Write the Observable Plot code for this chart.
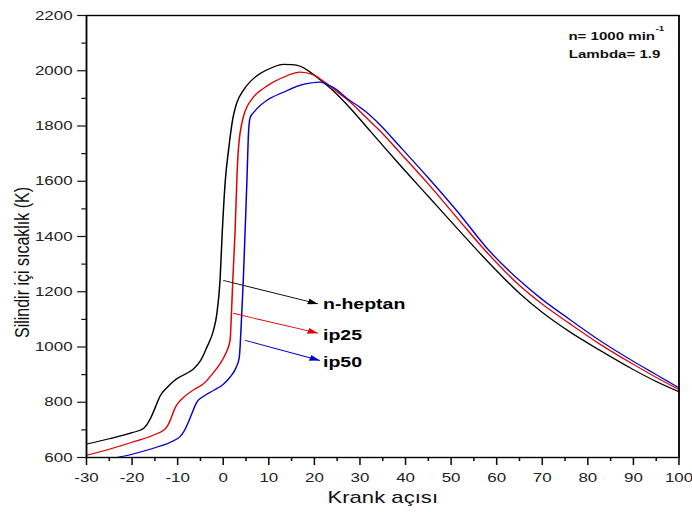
<!DOCTYPE html>
<html>
<head>
<meta charset="utf-8">
<script src="https://cdn.jsdelivr.net/npm/d3@7"></script>
<script src="https://cdn.jsdelivr.net/npm/@observablehq/plot@0.6"></script>
<style>
  html, body { margin: 0; padding: 0; background: #fff; }
  #chart svg { display: block; }
</style>
</head>
<body>
<div id="chart"></div>
<script>
// ---- data ----
const seriesNames = ["n-heptan", "ip25", "ip50"];
const seriesColors = ["#000000", "#e00000", "#0000d0"];

const xHeptan = [-30,-25,-20,-17.5,-16,-14.9,-13.8,-12.3,-10.2,-8,-6.5,-5,-3.6,-2.2,-1.4,-0.7,-0.2,0.45,1.15,2.15,3,4.35,6,8.1,10.5,13.15,15,16.9,18.5,20.5,24.1,28,31.45,34.4,38.7,45,51.85,58,64.9,70,76,82.45,90,95,100];
const yHeptan = [649,668,690,705,740,782,824,854,885,905,921,950,999,1057,1120,1241,1420,1602,1711,1831,1885,1928,1962,1990,2010,2023,2022,2016,2002,1977,1928,1862,1797,1741,1660,1545,1420,1310,1196,1125,1055,990,918,875,838];

const xIp25 = [-30,-25,-20,-15,-13,-12.3,-11.5,-10.5,-9.5,-8.7,-6.5,-4.3,-2.5,-0.7,0.5,1.5,1.8,2.1,2.6,2.98,3.3,4.4,6.6,9,11,14,16.8,19.7,22,24.1,28,31.4,34.3,38.7,45,51.8,58,65,70,76,82.5,90,95,100];
const yIp25 = [608,630,655,683,700,712,740,782,805,818,845,867,900,939,975,1024,1120,1241,1420,1602,1711,1832,1904,1938,1959,1982,1995,1986,1962,1935,1885,1830,1784,1705,1590,1458,1340,1223,1155,1085,1012,937,890,846];

const xIp50 = [-23.3,-20,-15,-11,-9.5,-8.7,-7.9,-7.2,-5.8,-4,-2.1,0,1.5,2.8,3.5,3.7,4.0,4.4,4.8,5.2,5.5,5.9,7,9.5,13.2,16.8,19,21.2,24.1,27.8,30,31.4,34.3,38.7,45,51.8,58,65,70,76,82.5,90,95,100];
const yIp50 = [600,612,635,660,675,692,718,746,800,825,843,865,891,925,960,1000,1100,1241,1420,1603,1760,1830,1855,1892,1922,1947,1955,1959,1940,1892,1868,1850,1806,1727,1612,1482,1355,1241,1172,1100,1025,948,900,852];

// arrows pointing from the curves to the labels
const arrowX1 = [0.0, 2.2, 4.8];
const arrowY1 = [1241, 1122, 1024];
const arrowX2 = [20.8, 20.8, 21.2];
const arrowY2 = [1156, 1050, 951];
const labelX = [21.9, 21.9, 21.9];
const labelY = [1156, 1042, 945];

const xMajorTicks = d3.range(-30, 101, 10);
const xMinorTicks = d3.range(-25, 100, 10);
const yMajorTicks = d3.range(600, 2201, 200);
const yMinorTicks = d3.range(700, 2200, 200);

const xTitle = ["Krank açısı"];
const yTitle = ["Silindir içi sıcaklık (K)"];
const noteLine1 = ["n= 1000 min"];
const noteSup = ["-1"];
const noteLine2 = ["Lambda= 1.9"];

// ---- chart ----
const W = 532, H = 512, OUT_W = 692;

function triMarker(color, context) {
  const doc = (context && context.document) || document;
  const m = doc.createElementNS("http://www.w3.org/2000/svg", "marker");
  m.setAttribute("viewBox", "0 -3 8 6");
  m.setAttribute("markerWidth", 8);
  m.setAttribute("markerHeight", 6);
  m.setAttribute("markerUnits", "userSpaceOnUse");
  m.setAttribute("refX", 8);
  m.setAttribute("refY", 0);
  m.setAttribute("orient", "auto");
  const p = doc.createElementNS("http://www.w3.org/2000/svg", "path");
  p.setAttribute("d", "M0,-3L8,0L0,3Z");
  p.setAttribute("fill", color);
  p.setAttribute("stroke", "none");
  m.appendChild(p);
  return m;
}

let arrowMark;
try {
  arrowMark = Plot.link({length: 3}, {
    x1: arrowX1, y1: arrowY1, x2: arrowX2, y2: arrowY2,
    stroke: seriesColors, strokeWidth: 0.9, markerEnd: triMarker
  });
} catch (e) {
  arrowMark = Plot.link({length: 3}, {
    x1: arrowX1, y1: arrowY1, x2: arrowX2, y2: arrowY2,
    stroke: seriesColors, strokeWidth: 0.9, markerEnd: "arrow"
  });
}

const series = [[xHeptan, yHeptan], [xIp25, yIp25], [xIp50, yIp50]];
const plain = (d) => String(d);

const chart = Plot.plot({
  width: W,
  height: H,
  marginLeft: 66,
  marginRight: 10.5,
  marginTop: 15,
  marginBottom: 55,
  style: {fontFamily: "'Liberation Sans', Arial, sans-serif", fontSize: "13px", color: "#222", background: "#fff"},
  x: {domain: [-30, 100], axis: null},
  y: {domain: [600, 2200], axis: null},
  color: {type: "identity"},
  marks: [
    Plot.axisX(xMajorTicks, {anchor: "bottom", tickSize: 8, tickPadding: 7, tickFormat: plain, label: null, fontSize: 13, stroke: "#111", strokeWidth: 1.2}),
    Plot.axisX(xMinorTicks, {anchor: "bottom", tickSize: 4, tickFormat: () => "", label: null, stroke: "#111", strokeWidth: 1.2}),
    Plot.axisY(yMajorTicks, {anchor: "left", tickSize: 6.7, tickPadding: 4, tickFormat: plain, label: null, fontSize: 13, stroke: "#111", strokeWidth: 1.2}),
    Plot.axisY(yMinorTicks, {anchor: "left", tickSize: 3.5, tickFormat: () => "", label: null, stroke: "#111", strokeWidth: 1.2}),
    ...series.map(([xs, ys], i) => Plot.line({length: xs.length}, {
      x: xs, y: ys, stroke: seriesColors[i], strokeWidth: 1.15, curve: "monotone-x"
    })),
    arrowMark,
    Plot.text(seriesNames, {x: labelX, y: labelY, text: seriesNames, textAnchor: "start", lineAnchor: "middle", fontWeight: "bold", fontSize: 15, fill: "#000"}),
    Plot.text(noteLine1, {frameAnchor: "top-right", textAnchor: "end", lineAnchor: "middle", dx: -18.4, dy: 21, fontWeight: "bold", fontSize: 11.6, fill: "#111"}),
    Plot.text(noteSup, {frameAnchor: "top-right", textAnchor: "start", lineAnchor: "middle", dx: -18, dy: 13, fontWeight: "bold", fontSize: 7.5, fill: "#111"}),
    Plot.text(noteLine2, {frameAnchor: "top-right", textAnchor: "end", lineAnchor: "middle", dx: -14.3, dy: 38.5, fontWeight: "bold", fontSize: 11.6, fill: "#111"}),
    Plot.text(xTitle, {frameAnchor: "bottom", textAnchor: "middle", lineAnchor: "middle", dy: 40, fontSize: 17, fill: "#111"}),
    Plot.text(yTitle, {frameAnchor: "left", textAnchor: "middle", lineAnchor: "middle", dx: -49, dy: 26, rotate: -90, fontSize: 16, fill: "#111"}),
    Plot.frame({stroke: "#000", strokeWidth: 1.4})
  ]
});

// The reference image is horizontally stretched; reproduce that by scaling the SVG.
chart.setAttribute("viewBox", `0 0 ${W} ${H}`);
chart.setAttribute("preserveAspectRatio", "none");
chart.setAttribute("width", OUT_W);
chart.setAttribute("height", H);
chart.style.width = OUT_W + "px";
chart.style.height = H + "px";
chart.style.maxWidth = "none";
document.getElementById("chart").appendChild(chart);
</script>
</body>
</html>
